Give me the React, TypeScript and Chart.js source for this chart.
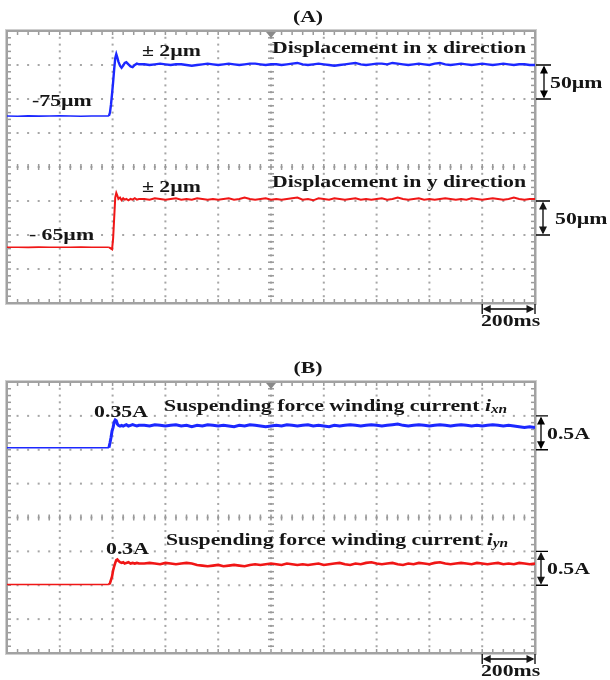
import React, { useEffect, useRef } from "react";
import { Chart, registerables } from "chart.js";

Chart.register(...registerables);

// ---------- time samples (ms) ----------
const timePre = [0, 40, 80, 120, 160, 200, 240, 280, 320, 360];
const timeStep = [380, 386, 390, 394, 398, 402, 406, 410, 414, 418, 422, 428, 434, 440, 446, 452, 460, 468, 476, 484, 492, 500];
const timeSettled = [
  520, 540, 560, 580, 600, 620, 640, 660, 680, 700, 720, 740, 760, 780, 800,
  820, 840, 860, 880, 900, 920, 940, 960, 980, 1000, 1020, 1040, 1060, 1080, 1100,
  1120, 1140, 1160, 1180, 1200, 1220, 1240, 1260, 1280, 1300, 1320, 1340, 1360, 1380, 1400,
  1420, 1440, 1460, 1480, 1500, 1520, 1540, 1560, 1580, 1600, 1620, 1640, 1660, 1680, 1700,
  1720, 1740, 1760, 1780, 1800, 1820, 1840, 1860, 1880, 1900, 1920, 1940, 1960, 1980, 2000,
];

// ---------- (A) displacement in x direction (µm) ----------
const dispXPre = [-75, -75.3, -74.8, -75.2, -75, -74.7, -75.1, -75.3, -74.9, -75];
const dispXStep = [-75, -75, -70, -58, -42, -25, -6, 10, 16, 11, 5, -1, -4, -1, 3, 4, 1, -2, -3, 0, 2, 1];
const dispXSettled = [
  1, 0, 1, 2, 1, 0, 1, 1, 0, -1, 0, 1, 2, 1, 0,
  1, 2, 1, 0, 1, 2, 2, 1, 0, 1, 1, 0, 1, 2, 3,
  1, 0, 1, 2, 1, 0, -1, 0, 1, 2, 3, 1, 0, 1, 2,
  2, 1, 3, 2, 1, 0, 1, 2, 1, 0, 2, 3, 1, 0, 1,
  2, 1, 0, 1, 2, 1, 0, 1, 2, 1, 0, 1, 1, 0, 0,
];

// ---------- (A) displacement in y direction (µm) ----------
const dispYPre = [-68, -68, -68.2, -67.9, -68, -68.1, -68, -67.8, -68, -68];
const dispYStep = [-68, -68, -69, -70, -71, -55, -25, 5, 12, 8, 3, 5, 1, 4, 2, 3, 1, 3, 2, 4, 2, 3];
const dispYSettled = [
  3, 2, 4, 3, 2, 3, 4, 2, 3, 2, 4, 3, 2, 3, 2,
  3, 4, 2, 3, 5, 3, 2, 3, 4, 2, 3, 2, 3, 4, 5,
  2, 3, 1, 4, 3, 2, 4, 3, 2, 3, 4, 2, 3, 2, 3,
  4, 2, 3, 5, 3, 2, 3, 4, 2, 3, 2, 3, 4, 3, 2,
  3, 2, 4, 3, 2, 3, 4, 3, 2, 3, 5, 3, 2, 3, 3,
];

// ---------- (B) suspending force winding current ixn (A) ----------
const curXPre = [0.03, 0.03, 0.03, 0.03, 0.03, 0.03, 0.03, 0.03, 0.03, 0.03];
const curXStep = [0.03, 0.03, 0.1, 0.18, 0.28, 0.33, 0.41, 0.44, 0.43, 0.38, 0.36, 0.35, 0.36, 0.35, 0.36, 0.37, 0.35, 0.36, 0.37, 0.36, 0.35, 0.36];
const curXSettled = [
  0.36, 0.35, 0.37, 0.36, 0.35, 0.36, 0.37, 0.35, 0.36, 0.34, 0.36, 0.35, 0.37, 0.36, 0.35,
  0.36, 0.35, 0.34, 0.36, 0.35, 0.37, 0.36, 0.35, 0.34, 0.35, 0.36, 0.35, 0.37, 0.36, 0.35,
  0.36, 0.37, 0.35, 0.36, 0.35, 0.34, 0.36, 0.35, 0.36, 0.37, 0.36, 0.35, 0.36, 0.37, 0.36,
  0.35, 0.36, 0.37, 0.38, 0.36, 0.35, 0.36, 0.37, 0.36, 0.35, 0.36, 0.37, 0.36, 0.35, 0.36,
  0.37, 0.36, 0.35, 0.36, 0.35, 0.36, 0.37, 0.36, 0.35, 0.36, 0.35, 0.34, 0.33, 0.34, 0.33,
];

// ---------- (B) suspending force winding current iyn (A) ----------
const curYPre = [0.01, 0.01, 0.01, 0.01, 0.01, 0.01, 0.01, 0.01, 0.01, 0.01];
const curYStep = [0.01, 0.01, 0.03, 0.08, 0.13, 0.22, 0.28, 0.33, 0.37, 0.38, 0.36, 0.34, 0.33, 0.34, 0.32, 0.33, 0.34, 0.32, 0.33, 0.32, 0.33, 0.32];
const curYSettled = [
  0.32, 0.33, 0.32, 0.31, 0.33, 0.32, 0.31, 0.32, 0.33, 0.32, 0.30, 0.29, 0.28, 0.29, 0.30,
  0.28, 0.29, 0.30, 0.29, 0.28, 0.30, 0.31, 0.30, 0.31, 0.32, 0.31, 0.30, 0.32, 0.31, 0.30,
  0.31, 0.30, 0.31, 0.32, 0.30, 0.31, 0.32, 0.33, 0.31, 0.30, 0.32, 0.31, 0.33, 0.34, 0.32,
  0.31, 0.32, 0.33, 0.31, 0.30, 0.32, 0.31, 0.33, 0.32, 0.31, 0.33, 0.34, 0.32, 0.31, 0.32,
  0.33, 0.32, 0.31, 0.33, 0.32, 0.31, 0.32, 0.33, 0.31, 0.32, 0.31, 0.33, 0.32, 0.31, 0.32,
];

// ---------- scope settings ----------
const timeDivMs = 200;
const timeDivisions = 10;
const verticalDivisions = 8;
const minorPerDiv = 5;

const BLUE = "rgb(28, 40, 255)";
const RED = "rgb(240, 22, 22)";
const TEXT = "#161616";
const FONT_FAMILY = '"Liberation Serif", "Times New Roman", serif';
const TEXT_STRETCH = 1.28;

type Part = { text: string; style?: string; size?: number; dy?: number };

function toPoints(pre: number[], step: number[], settled: number[]) {
  return [
    ...timePre.map((t, i) => ({ x: t, y: pre[i] })),
    ...timeStep.map((t, i) => ({ x: t, y: step[i] })),
    ...timeSettled.map((t, i) => ({ x: t, y: settled[i] })),
  ];
}

function drawParts(ctx: CanvasRenderingContext2D, parts: Part[], x: number, y: number, align: string) {
  let total = 0;
  for (const p of parts) {
    ctx.font = `${p.style || "bold"} ${p.size || 17}px ${FONT_FAMILY}`;
    total += ctx.measureText(p.text).width * TEXT_STRETCH;
  }
  let cx = align === "right" ? x - total : align === "center" ? x - total / 2 : x;
  ctx.fillStyle = TEXT;
  ctx.textAlign = "left";
  ctx.textBaseline = "alphabetic";
  for (const p of parts) {
    ctx.font = `${p.style || "bold"} ${p.size || 17}px ${FONT_FAMILY}`;
    const w = ctx.measureText(p.text).width * TEXT_STRETCH;
    ctx.save();
    ctx.translate(cx, y + (p.dy || 0));
    ctx.scale(TEXT_STRETCH, 1);
    ctx.fillText(p.text, 0, 0);
    ctx.restore();
    cx += w;
  }
}

function arrowHead(ctx: CanvasRenderingContext2D, x: number, y: number, dir: "up" | "down" | "left" | "right") {
  const s = 4, l = 8;
  ctx.beginPath();
  if (dir === "up") { ctx.moveTo(x, y); ctx.lineTo(x - s, y + l); ctx.lineTo(x + s, y + l); }
  if (dir === "down") { ctx.moveTo(x, y); ctx.lineTo(x - s, y - l); ctx.lineTo(x + s, y - l); }
  if (dir === "left") { ctx.moveTo(x, y); ctx.lineTo(x + l, y - s); ctx.lineTo(x + l, y + s); }
  if (dir === "right") { ctx.moveTo(x, y); ctx.lineTo(x - l, y - s); ctx.lineTo(x - l, y + s); }
  ctx.closePath();
  ctx.fill();
}

type PanelCfg = {
  title: string;
  padding: { left: number; right: number; top: number; bottom: number };
  axes: Record<string, { min: number; max: number }>;
  series: { data: { x: number; y: number }[]; axis: string; color: string; width: number }[];
  labels: { parts: Part[]; t: number; v: number; axis: string; align: string }[];
  bars: { axis: string; from: number; to: number; text: string; barDx: number; textDx: number }[];
  timeBar: { from: number; to: number; text: string };
};

function makeScopePlugin(cfg: PanelCfg) {
  return {
    id: "scope",
    beforeDatasetsDraw(chart: any) {
      const { ctx, chartArea: a, scales } = chart;
      const sx = scales.x;
      const sg = scales.grid;
      ctx.save();
      // dotted major grid
      ctx.fillStyle = "#a6a6a6";
      for (let k = 1; k < timeDivisions; k++) {
        const px = sx.getPixelForValue(k * timeDivMs);
        for (let m = 0; m <= verticalDivisions * minorPerDiv; m++) {
          const py = sg.getPixelForValue(m / minorPerDiv);
          ctx.fillRect(px - 1, py - 1, 2, 2);
        }
      }
      for (let k = 1; k < verticalDivisions; k++) {
        const py = sg.getPixelForValue(k);
        for (let m = 0; m <= timeDivisions * minorPerDiv; m++) {
          const px = sx.getPixelForValue((m * timeDivMs) / minorPerDiv);
          ctx.fillRect(px - 1, py - 1, 2, 2);
        }
      }
      // centre axis ticks
      ctx.fillStyle = "#9a9a9a";
      const cX = sx.getPixelForValue((timeDivisions / 2) * timeDivMs);
      for (let m = 0; m <= verticalDivisions * minorPerDiv; m++) {
        const py = sg.getPixelForValue(m / minorPerDiv);
        ctx.fillRect(cX - 3, py - 0.75, 6, 1.5);
      }
      const cY = sg.getPixelForValue(verticalDivisions / 2);
      for (let m = 0; m <= timeDivisions * minorPerDiv; m++) {
        const px = sx.getPixelForValue((m * timeDivMs) / minorPerDiv);
        ctx.fillRect(px - 0.75, cY - 3, 1.5, 6);
      }
      // edge ticks
      for (let m = 0; m <= verticalDivisions * minorPerDiv; m++) {
        const py = sg.getPixelForValue(m / minorPerDiv);
        ctx.fillRect(a.left, py - 0.75, 4, 1.5);
        ctx.fillRect(a.right - 4, py - 0.75, 4, 1.5);
      }
      for (let m = 0; m <= timeDivisions * minorPerDiv; m++) {
        const px = sx.getPixelForValue((m * timeDivMs) / minorPerDiv);
        ctx.fillRect(px - 0.75, a.top, 1.5, 4);
        ctx.fillRect(px - 0.75, a.bottom - 4, 1.5, 4);
      }
      // border
      ctx.strokeStyle = "#cfcfcf";
      ctx.lineWidth = 1;
      ctx.strokeRect(a.left - 1.5, a.top - 1.5, a.right - a.left + 3, a.bottom - a.top + 3);
      ctx.strokeStyle = "#a2a2a2";
      ctx.lineWidth = 2;
      ctx.strokeRect(a.left, a.top, a.right - a.left, a.bottom - a.top);
      // trigger marker
      ctx.fillStyle = "#8a8a8a";
      ctx.beginPath();
      ctx.moveTo(cX - 5, a.top + 1);
      ctx.lineTo(cX + 5, a.top + 1);
      ctx.lineTo(cX, a.top + 7);
      ctx.closePath();
      ctx.fill();
      ctx.restore();
    },
    afterDatasetsDraw(chart: any) {
      const { ctx, chartArea: a, scales, width } = chart;
      const sx = scales.x;
      ctx.save();
      // title
      drawParts(ctx, [{ text: cfg.title }], width / 2 + 3, a.top - 9, "center");
      // in-plot labels
      for (const l of cfg.labels) {
        drawParts(ctx, l.parts, sx.getPixelForValue(l.t), scales[l.axis].getPixelForValue(l.v), l.align);
      }
      // vertical scale bars
      ctx.strokeStyle = "#000";
      ctx.fillStyle = "#000";
      ctx.lineWidth = 1.3;
      for (const b of cfg.bars) {
        const ys = scales[b.axis];
        const y1 = ys.getPixelForValue(b.from);
        const y2 = ys.getPixelForValue(b.to);
        const bx = a.right + b.barDx;
        ctx.beginPath();
        ctx.moveTo(bx, y1 + 2); ctx.lineTo(bx, y2 - 2);
        ctx.moveTo(a.right + 1, y1); ctx.lineTo(bx + 7, y1);
        ctx.moveTo(a.right + 1, y2); ctx.lineTo(bx + 7, y2);
        ctx.stroke();
        arrowHead(ctx, bx, y1 + 0.5, "up");
        arrowHead(ctx, bx, y2 - 0.5, "down");
        drawParts(ctx, [{ text: b.text }], a.right + b.textDx, (y1 + y2) / 2 + 6, "left");
      }
      // time scale bar
      const tb = cfg.timeBar;
      const x1 = sx.getPixelForValue(tb.from);
      const x2 = sx.getPixelForValue(tb.to);
      const ty = a.bottom + 6;
      ctx.beginPath();
      ctx.moveTo(x1 + 2, ty); ctx.lineTo(x2 - 2, ty);
      ctx.moveTo(x1, a.bottom + 1); ctx.lineTo(x1, a.bottom + 11);
      ctx.moveTo(x2, a.bottom + 1); ctx.lineTo(x2, a.bottom + 11);
      ctx.stroke();
      arrowHead(ctx, x1 + 0.5, ty, "left");
      arrowHead(ctx, x2 - 0.5, ty, "right");
      drawParts(ctx, [{ text: tb.text }], (x1 + x2) / 2 + 2, a.bottom + 23, "center");
      ctx.restore();
    },
  };
}

const panelA: PanelCfg = {
  title: "(A)",
  padding: { left: 7, right: 75, top: 31, bottom: 37 },
  axes: { yx: { min: -350, max: 50 }, yy: { min: -150, max: 250 } },
  series: [
    { data: toPoints(dispXPre, dispXStep, dispXSettled), axis: "yx", color: BLUE, width: 2.4 },
    { data: toPoints(dispYPre, dispYStep, dispYSettled), axis: "yy", color: RED, width: 2 },
  ],
  labels: [
    { parts: [{ text: "± 2µm" }], t: 511, v: 13, axis: "yx", align: "left" },
    { parts: [{ text: "Displacement in x direction" }], t: 1966, v: 17.6, axis: "yx", align: "right" },
    { parts: [{ text: "-75µm" }], t: 95, v: -60.3, axis: "yx", align: "left" },
    { parts: [{ text: "± 2µm" }], t: 511, v: 13, axis: "yy", align: "left" },
    { parts: [{ text: "Displacement in y direction" }], t: 1966, v: 20.6, axis: "yy", align: "right" },
    { parts: [{ text: "- 65µm" }], t: 83, v: -57.4, axis: "yy", align: "left" },
  ],
  bars: [
    { axis: "yx", from: 0, to: -50, text: "50µm", barDx: 9, textDx: 15 },
    { axis: "yy", from: 0, to: -50, text: "50µm", barDx: 8, textDx: 20 },
  ],
  timeBar: { from: 1800, to: 2000, text: "200ms" },
};

const panelB: PanelCfg = {
  title: "(B)",
  padding: { left: 7, right: 75, top: 42, bottom: 27 },
  axes: { ix: { min: -3, max: 1 }, iy: { min: -1, max: 3 } },
  series: [
    { data: toPoints(curXPre, curXStep, curXSettled), axis: "ix", color: BLUE, width: 3 },
    { data: toPoints(curYPre, curYStep, curYSettled), axis: "iy", color: RED, width: 2.6 },
  ],
  labels: [
    { parts: [{ text: "0.35A" }], t: 330, v: 0.485, axis: "ix", align: "left" },
    {
      parts: [
        { text: "Suspending force winding current " },
        { text: "i", style: "italic bold", size: 17 },
        { text: "xn", style: "italic bold", size: 12, dy: 2 },
      ],
      t: 595, v: 0.574, axis: "ix", align: "left",
    },
    { parts: [{ text: "0.3A" }], t: 375, v: 0.456, axis: "iy", align: "left" },
    {
      parts: [
        { text: "Suspending force winding current " },
        { text: "i", style: "italic bold", size: 17 },
        { text: "yn", style: "italic bold", size: 12, dy: 2 },
      ],
      t: 602, v: 0.588, axis: "iy", align: "left",
    },
  ],
  bars: [
    { axis: "ix", from: 0.5, to: 0, text: "0.5A", barDx: 6, textDx: 12 },
    { axis: "iy", from: 0.5, to: 0, text: "0.5A", barDx: 6, textDx: 12 },
  ],
  timeBar: { from: 1800, to: 2000, text: "200ms" },
};

function ScopePanel({ cfg }: { cfg: PanelCfg }) {
  const ref = useRef<HTMLCanvasElement>(null);
  useEffect(() => {
    const scales: any = {
      x: { type: "linear", axis: "x", position: "bottom", min: 0, max: timeDivisions * timeDivMs, display: false },
      grid: { type: "linear", axis: "y", position: "left", min: 0, max: verticalDivisions, reverse: true, display: false },
    };
    for (const [id, r] of Object.entries(cfg.axes)) {
      scales[id] = { type: "linear", axis: "y", position: "left", min: r.min, max: r.max, display: false };
    }
    const chart = new Chart(ref.current as HTMLCanvasElement, {
      type: "line",
      data: {
        datasets: cfg.series.map((s) => ({
          data: s.data,
          yAxisID: s.axis,
          borderColor: s.color,
          borderWidth: s.width,
          pointRadius: 0,
          tension: 0,
          fill: false,
          segment: {
            borderWidth: (c: any) => (c.p1.parsed.x <= timeStep[1] ? 1.6 : s.width),
          },
        })),
      },
      options: {
        responsive: false,
        animation: false,
        layout: { padding: cfg.padding },
        plugins: { legend: { display: false }, tooltip: { enabled: false }, title: { display: false } },
        scales,
        events: [],
      },
      plugins: [makeScopePlugin(cfg)],
    } as any);
    return () => chart.destroy();
  }, [cfg]);
  return <canvas ref={ref} width={610} height={340} style={{ display: "block" }} />;
}

export default function App() {
  return (
    <div style={{ position: "absolute", left: 0, top: 0, width: 610, height: 680, background: "#fff" }}>
      <ScopePanel cfg={panelA} />
      <ScopePanel cfg={panelB} />
    </div>
  );
}
